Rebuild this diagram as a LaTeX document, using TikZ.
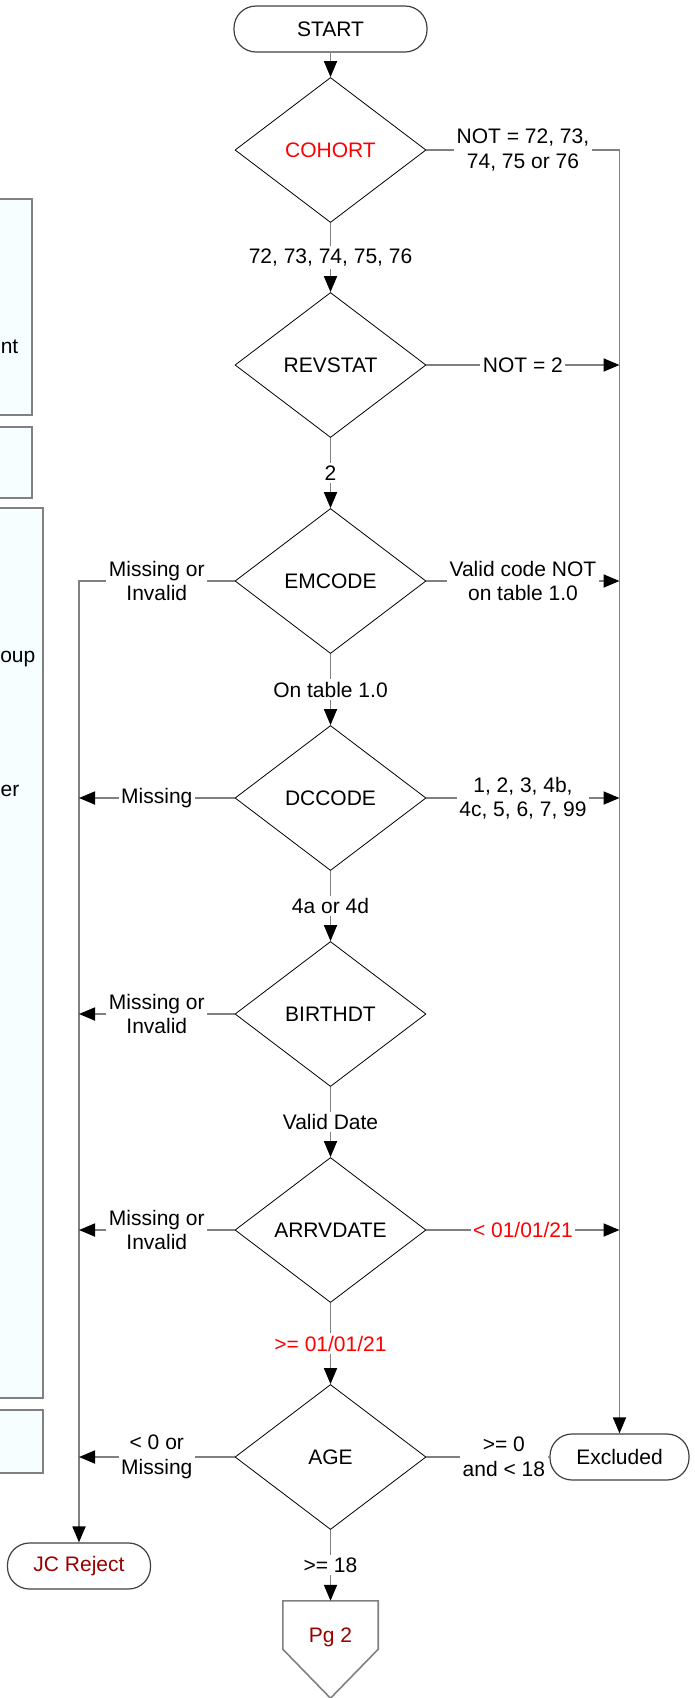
\documentclass[tikz,border=0pt]{standalone}
\usepackage{fontspec}
\setmainfont{Liberation Sans}
\usetikzlibrary{shapes.geometric,arrows.meta}

\definecolor{linegray}{RGB}{128,128,128}
\definecolor{boxfill}{RGB}{246,254,255}
\definecolor{rejred}{RGB}{153,0,0}

\tikzset{
  terminal/.style={draw=black!75, line width=1.2pt, rounded corners=22pt,
    minimum height=46pt, inner sep=0pt},
  decision/.style={diamond, draw, line width=0.8pt, minimum width=191pt,
    minimum height=145pt, inner sep=0pt},
  offpage/.style={draw=linegray, line width=1.6pt},
  flow/.style={draw=linegray, line width=1.8pt,
    -{Triangle[length=16pt,width=13pt,color=black]}},
  cond/.style={fill=white, inner sep=2.5pt, align=center},
  sidebox/.style={draw=linegray, line width=1.8pt, fill=boxfill},
}

\begin{document}
\begin{tikzpicture}[x=1pt,y=-1pt,font=\fontsize{21}{24.5}\selectfont]
  \useasboundingbox (0,0) rectangle (695,1698);

  % Cajas laterales, cortadas por el borde izquierdo
  \draw[sidebox] (-10,199) rectangle (32,415);
  \draw[sidebox] (-10,427) rectangle (32,498);
  \draw[sidebox] (-10,508) rectangle (43,1398);
  \draw[sidebox] (-10,1410) rectangle (43,1473);
  \node[anchor=east, inner sep=0pt] (frag1) at (18.5,347) {nt};
  \node[anchor=east, inner sep=0pt] (frag2) at (35.5,659) {oup};
  \node[anchor=east, inner sep=0pt] (frag3) at (19.5,791) {er};

  % Nodos principales
  \node[terminal, minimum width=193pt] (start) at (330.5,29) {START};
  \node[decision, text=red] (cohort) at (330.5,150) {COHORT};
  \node[decision] (revstat) at (330.5,365) {REVSTAT};
  \node[decision] (emcode) at (330.5,581) {EMCODE};
  \node[decision] (dccode) at (330.5,798) {DCCODE};
  \node[decision] (birthdt) at (330.5,1014) {BIRTHDT};
  \node[decision] (arrvdate) at (330.5,1230) {ARRVDATE};
  \node[decision] (age) at (330.5,1457) {AGE};
  \node[terminal, minimum width=139pt] (excluded) at (619.5,1457) {Excluded};
  \node[terminal, minimum width=143pt, text=rejred] (jcreject) at (79,1566) {JC Reject};

  % Conector a la pagina 2
  \node[minimum width=95pt, minimum height=48pt, inner sep=0pt] (pg2) at (330.5,1625) {};
  \draw[offpage] (pg2.north west) -- (pg2.north east) -- (pg2.south east)
    -- ([yshift=-49pt]pg2.south) -- (pg2.south west) -- cycle;
  \node[text=rejred] (pg2label) at (330.5,1637) {Pg 2};

  % Camino principal hacia abajo
  \draw[flow] (start) -- (cohort);
  \draw[flow] (cohort) -- node[cond] {72, 73, 74, 75, 76} (revstat);
  \draw[flow] (revstat) -- node[cond] {2} (emcode);
  \draw[flow] (emcode) -- node[cond] {On table 1.0} (dccode);
  \draw[flow] (dccode) -- node[cond] {4a or 4d} (birthdt);
  \draw[flow] (birthdt) -- node[cond] {Valid Date} (arrvdate);
  \draw[flow] (arrvdate) -- node[cond, text=red] {>= 01/01/21} (age);
  \draw[flow] (age) -- node[cond] {>= 18} (pg2);

  % Ramas a la derecha (Excluded)
  \draw[flow] (cohort.east) -- node[cond] {NOT = 72, 73,\\74, 75 or 76}
    (cohort.east -| excluded) -- (excluded);
  \draw[flow] (revstat.east) -- node[cond] {NOT = 2} (revstat.east -| excluded);
  \draw[flow] (emcode.east) -- node[cond] {Valid code NOT\\on table 1.0} (emcode.east -| excluded);
  \draw[flow] (dccode.east) -- node[cond] {1, 2, 3, 4b,\\4c, 5, 6, 7, 99} (dccode.east -| excluded);
  \draw[flow] (arrvdate.east) -- node[cond, text=red] {< 01/01/21} (arrvdate.east -| excluded);
  \draw[flow] (age) -- node[cond, pos=0.63] {>= 0\\and < 18} (excluded);

  % Ramas a la izquierda (JC Reject)
  \draw[flow] (emcode.west) -- node[cond] {Missing or\\Invalid}
    (emcode.west -| jcreject) -- (jcreject);
  \draw[flow] (dccode.west) -- node[cond] {Missing} (dccode.west -| jcreject);
  \draw[flow] (birthdt.west) -- node[cond] {Missing or\\Invalid} (birthdt.west -| jcreject);
  \draw[flow] (arrvdate.west) -- node[cond] {Missing or\\Invalid} (arrvdate.west -| jcreject);
  \draw[flow] (age.west) -- node[cond] {< 0 or\\Missing} (age.west -| jcreject);
\end{tikzpicture}
\end{document}
